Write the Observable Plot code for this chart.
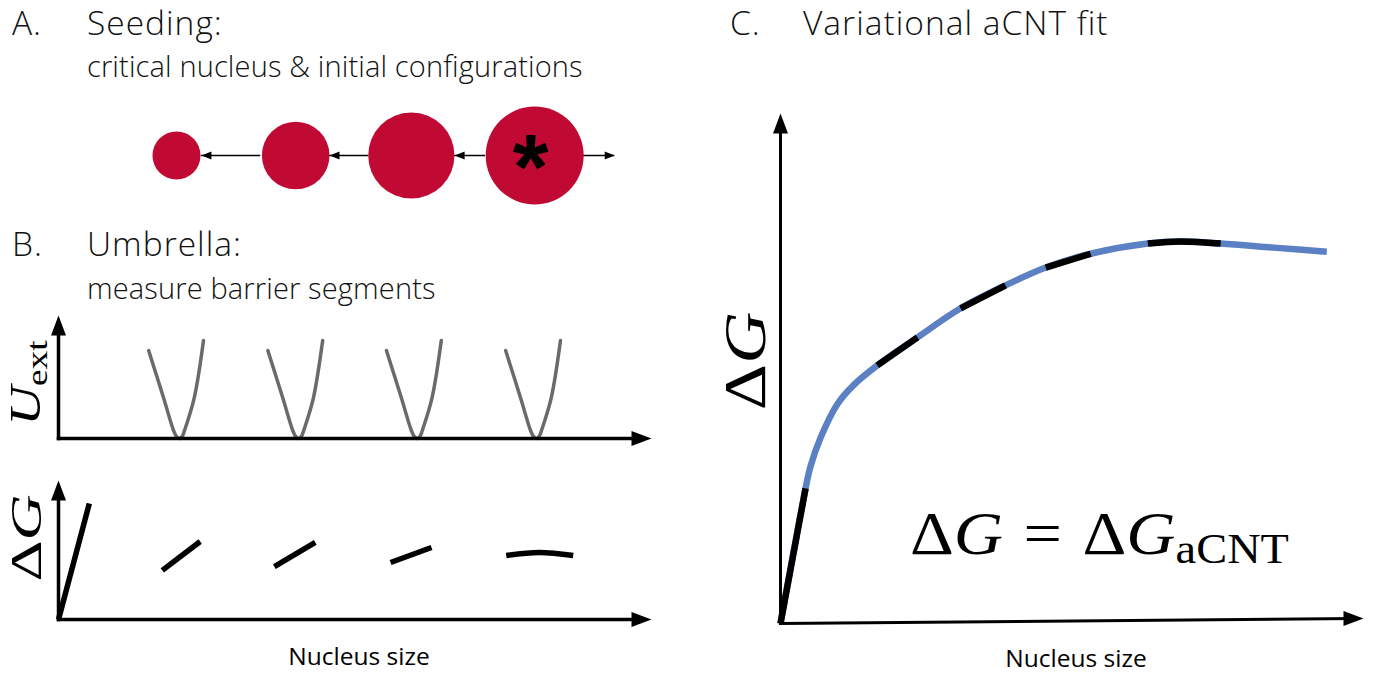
<!DOCTYPE html>
<html>
<head>
<meta charset="utf-8">
<script src="https://cdn.jsdelivr.net/npm/d3@7"></script>
<script src="https://cdn.jsdelivr.net/npm/@observablehq/plot@0.6"></script>
<style>
  body { margin: 0; background: #fff; }
  #fig { position: relative; width: 1380px; height: 677px; overflow: hidden; font-family: "Open Sans", sans-serif; color: #000; }
  #fig svg { position: absolute; left: 0; top: 0; }
  .title { position: absolute; white-space: nowrap; line-height: 1; font-weight: 300; color: #111; }
  .head { font-size: 33.5px; letter-spacing: 0.03em; }
  .sub { font-size: 29px; letter-spacing: 0.005em; }
  .math { position: absolute; white-space: nowrap; line-height: 1; font-family: "Liberation Serif", serif; }
  .rot { transform-origin: 50% 50%; }
  .math i { font-style: italic; }
  .math sub { font-size: 0.68em; vertical-align: -0.21em; }
</style>
</head>
<body>
<div id="fig">
  <div class="title head" style="left:12px;top:6px">A.</div>
  <div class="title head" style="left:87px;top:6px">Seeding:</div>
  <div class="title sub" style="left:87px;top:51px">critical nucleus &amp; initial configurations</div>
  <div class="title head" style="left:12px;top:227px">B.</div>
  <div class="title head" style="left:87px;top:227px">Umbrella:</div>
  <div class="title sub" style="left:87px;top:273px">measure barrier segments</div>
  <div class="title head" style="left:730px;top:6px">C.</div>
  <div class="title head" style="left:803px;top:6px">Variational aCNT fit</div>

  <div class="math rot" style="left:28px;top:383px;font-size:44px;transform:translate(-50%,-50%) rotate(-90deg) scale(1.25,1)"><i>U</i><sub>ext</sub></div>
  <div class="math rot" style="left:27px;top:538px;font-size:44px;transform:translate(-50%,-50%) rotate(-90deg) scale(1.45,1)">Δ<i>G</i></div>
  <div class="math rot" style="left:745px;top:361px;font-size:60px;transform:translate(-50%,-50%) rotate(-90deg) scale(1.2,1)">Δ<i>G</i></div>
  <div class="math" style="left:910px;top:502px;font-size:62px;transform:scaleX(1.1);transform-origin:0 50%">Δ<i>G</i><span style="margin:0 0.3em">=</span>Δ<i>G</i><sub>aCNT</sub></div>
</div>
<script>
// ---------- Panel A: seeded configurations, smallest to critical ----------
const seedSize = [19.9, 40.0, 59.5, 80.3];        // nucleus size of each seed
const seedRadius = [0.49, 0.69, 0.88, 1.0];       // radius relative to the critical nucleus
const seedArrowFrom = [34.1, 52.3, 72.0, 88.4];   // arrows: shrinking / growing from the critical nucleus
const seedArrowTo = [24.1, 45.7, 66.8, 93.8];
const criticalSeed = 3;

// ---------- Panel B: umbrella windows and measured barrier segments ----------
const windowCenters = [20.4, 40.5, 60.5, 80.6];
const biasOffset = [-5.2, -2.7, -1.0, -0.55, 0, 0.5, 0.85, 2.5, 4.05];   // bias profile around a window centre
const biasEnergy = [71.5, 33.3, 6.5, 2.0, 0, 2.0, 6.5, 33.3, 79.7];
const segmentWindow = [0, 0, 1, 1, 2, 2, 3, 3, 4, 4, 4];
const segmentSize = [0, 5.2, 17.5, 23.9, 36.4, 43.3, 56.0, 62.9, 75.5, 81.1, 86.8];
const segmentG = [0, 83.5, 35.3, 56.1, 38.1, 55.4, 41.0, 51.8, 46.0, 48.2, 46.0];

// ---------- Panel C: fitted aCNT barrier ----------
const fitSize = [0, 4.3, 5.1, 6.9, 9.8, 12.5, 16.6, 23.5, 30.9, 38.6, 45.5, 53.2, 63.0, 68.6, 75.5, 84.6, 93.7];
const fitG = [0, 26.5, 30.6, 36.5, 43.1, 46.7, 50.6, 56.1, 61.8, 66.3, 69.8, 72.5, 74.5, 74.9, 74.5, 73.7, 72.9];
const sampledRanges = [[0, 4.3], [16.6, 23.5], [30.9, 38.6], [45.5, 53.2], [63.0, 75.5]];

const crimson = "#c00a34";
const fitBlue = "#5b80c4";

// filled arrowhead symbols; the tip sits on the anchor point
function arrowHead(dir, len, wid) {
  return {
    draw(ctx) {
      const h = wid / 2;
      if (dir === "up") { ctx.moveTo(0, 0); ctx.lineTo(-h, len); ctx.lineTo(h, len); }
      else if (dir === "right") { ctx.moveTo(0, 0); ctx.lineTo(-len, -h); ctx.lineTo(-len, h); }
      else { ctx.moveTo(0, 0); ctx.lineTo(len, -h); ctx.lineTo(len, h); }
      ctx.closePath();
    }
  };
}
const bigUp = arrowHead("up", 20, 15), bigRight = arrowHead("right", 20, 15);
const smallLeft = arrowHead("left", 10, 8), smallRight = arrowHead("right", 10, 8);

// a pair of arrowed axes meeting at the origin
function axesMarks(xTipY, sw) {
  const lines = [
    {x1: 0, y1: 0, x2: 100, y2: xTipY},
    {x1: 0, y1: 0, x2: 0, y2: 100}
  ];
  return [
    Plot.arrow(lines, {x1: "x1", y1: "y1", x2: "x2", y2: "y2", headLength: 0, insetEnd: 8,
      stroke: "black", strokeWidth: sw, strokeLinecap: "square"}),
    Plot.dot([{x: 100, y: xTipY}], {x: "x", y: "y", symbol: bigRight, fill: "black", stroke: "none"}),
    Plot.dot([{x: 0, y: 100}], {x: "x", y: "y", symbol: bigUp, fill: "black", stroke: "none"})
  ];
}

const common = {
  width: 1380, height: 677,
  style: {background: "transparent", fontFamily: "Open Sans", overflow: "visible"}
};
const xAB = {domain: [0, 100], axis: null};

// Panel A
const seeds = seedSize.map((s, i) => ({size: s, radius: seedRadius[i]}));
const seedArrows = seedArrowFrom.map((f, i) => ({from: f, to: seedArrowTo[i]}));
const plotA = Plot.plot({
  ...common,
  marginLeft: 58, marginRight: 729, marginTop: 105, marginBottom: 472,
  x: xAB, y: {domain: [0, 1], axis: null},
  r: {type: "linear", domain: [0, 1], range: [0, 49]},
  marks: [
    Plot.ruleY(seedArrows, {x1: "from", x2: "to", y: 0.5, stroke: "black", strokeWidth: 1.5}),
    Plot.dot(seedArrows.filter(d => d.to < d.from), {x: "to", y: 0.5, symbol: smallLeft, fill: "black", stroke: "none"}),
    Plot.dot(seedArrows.filter(d => d.to > d.from), {x: "to", y: 0.5, symbol: smallRight, fill: "black", stroke: "none"}),
    Plot.dot(seeds, {x: "size", y: 0.5, r: "radius", fill: crimson, stroke: "none"}),
    Plot.text([seeds[criticalSeed]], {x: "size", y: 0.5, text: () => "*", fontSize: 92,
      fontWeight: "bold", fontFamily: "Liberation Sans", fill: "black", dx: -4, dy: 14})
  ]
});

// Panel B, top: umbrella bias potentials
const bias = windowCenters.flatMap((c, w) =>
  biasOffset.map((o, k) => ({w, size: c + o, u: biasEnergy[k]})));
const plotB1 = Plot.plot({
  ...common,
  marginLeft: 58, marginRight: 729, marginTop: 315, marginBottom: 239,
  x: xAB, y: {domain: [0, 100], axis: null},
  marks: [
    Plot.line(bias, {x: "size", y: "u", z: "w", stroke: "#6a6a6a", strokeWidth: 3.5, curve: "catmull-rom"}),
    ...axesMarks(0, 3.5)
  ]
});

// Panel B, bottom: free-energy segments from each window
const segments = segmentSize.map((s, i) => ({w: segmentWindow[i], size: s, g: segmentG[i]}));
const plotB2 = Plot.plot({
  ...common,
  marginLeft: 58, marginRight: 729, marginTop: 480, marginBottom: 58,
  x: xAB, y: {domain: [0, 100], axis: null},
  marks: [
    Plot.line(segments, {x: "size", y: "g", z: "w", stroke: "black", strokeWidth: 5.5,
      strokeLinecap: "butt", curve: "catmull-rom"}),
    ...axesMarks(0, 3.5),
    Plot.text(["Nucleus size"], {frameAnchor: "bottom", dy: 45, dx: 4, fontSize: 24.5, fill: "black"})
  ]
});

// Panel C: continuous fit with the sampled segments on top
const fit = fitSize.map((s, i) => ({size: s, g: fitG[i]}));
const sampled = sampledRanges.flatMap(([a, b], w) =>
  fit.filter(d => d.size >= a && d.size <= b).map(d => ({...d, w})));
const plotC = Plot.plot({
  ...common,
  marginLeft: 780, marginRight: 17, marginTop: 113, marginBottom: 54,
  x: {domain: [0, 100], axis: null}, y: {domain: [0, 100], axis: null},
  marks: [
    Plot.line(fit, {x: "size", y: "g", stroke: fitBlue, strokeWidth: 6.5, strokeLinecap: "butt", curve: "catmull-rom"}),
    Plot.line(sampled, {x: "size", y: "g", z: "w", stroke: "black", strokeWidth: 6.5, strokeLinecap: "butt", curve: "catmull-rom"}),
    ...axesMarks(1.0, 3),
    Plot.text(["Nucleus size"], {frameAnchor: "bottom", dy: 43, dx: 4, fontSize: 24.5, fill: "black"})
  ]
});

const fig = document.getElementById("fig");
for (const p of [plotA, plotB1, plotB2, plotC]) fig.appendChild(p);
</script>
</body>
</html>
